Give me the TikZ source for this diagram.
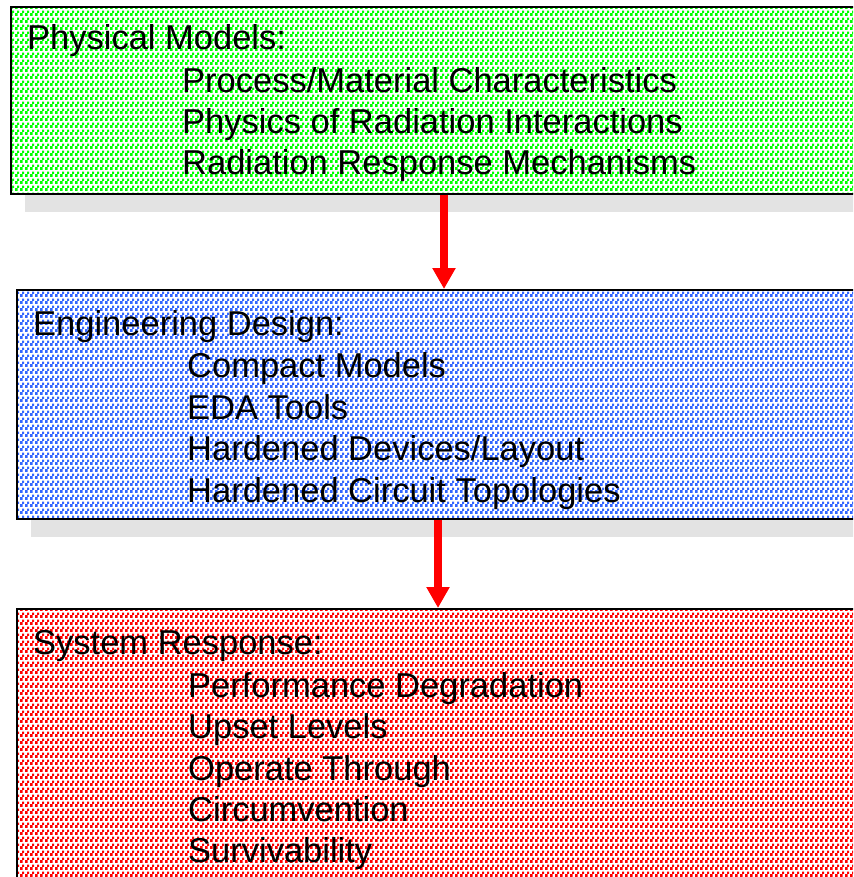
\documentclass[tikz,border=0pt]{standalone}
\usepackage{fontspec}
\setmainfont{Liberation Sans}
\usetikzlibrary{patterns.meta,arrows.meta}
\definecolor{pgreen}{HTML}{00FF00}
\definecolor{pblue}{HTML}{3366FF}
\definecolor{pred}{HTML}{FF0000}
\definecolor{shadowgray}{HTML}{E3E3E3}
\tikzdeclarepattern{
  name=boxdots,
  type=uncolored,
  bottom left={(0pt,0pt)},
  top right={(5pt,6.6pt)},
  tile size={(5pt,6.6pt)},
  code={
    \fill (0pt,0pt) rectangle (3.0pt,3.0pt);
    \fill (2.5pt,3.3pt) rectangle (4.9pt,5.7pt);
  }
}
\tikzset{
  panel/.style={draw=black, line width=2pt, anchor=north west, inner sep=0pt,
    preaction={fill=white}, pattern={boxdots}, pattern color=#1},
  shade/.style={fill=shadowgray, draw=none},
  head/.style={anchor=base west, inner sep=0pt, font=\fontsize{34.5}{40}\selectfont},
  item/.style={anchor=base west, inner sep=0pt, font=\fontsize{34.5}{40}\selectfont},
  arr/.style={draw=pred, line width=8pt, -{Triangle[width=22pt,length=21pt]}}
}
\begin{document}
\begin{tikzpicture}[x=1pt,y=-1pt]
\useasboundingbox (0,0) rectangle (853,877);
\clip (0,0) rectangle (853,877);
% shadows
\fill[shade] (25,193) rectangle (900,212);
\fill[shade] (31,518) rectangle (900,537);
% boxes
\node[panel=pgreen, minimum width=880pt, minimum height=187pt] (phys) at (10,6) {};
\node[panel=pblue, minimum width=880pt, minimum height=229pt] (eng) at (16,289) {};
\node[panel=pred, minimum width=880pt, minimum height=300pt] (sys) at (16,608) {};
% texts
\node[head] (t1) at (27,50) {Physical Models:};
\node[item] (t11) at (182,93) {Process/Material Characteristics};
\node[item] (t12) at (182,134) {Physics of Radiation Interactions};
\node[item] (t13) at (182,175) {Radiation Response Mechanisms};
\node[head] (t2) at (33,335) {Engineering Design:};
\node[item] (t21) at (187,377) {Compact Models};
\node[item] (t22) at (187,419) {EDA Tools};
\node[item] (t23) at (187,460) {Hardened Devices/Layout};
\node[item] (t24) at (187,502) {Hardened Circuit Topologies};
\node[head] (t3) at (33,654) {System Response:};
\node[item] (t31) at (188,697) {Performance Degradation};
\node[item] (t32) at (188,738) {Upset Levels};
\node[item] (t33) at (188,780) {Operate Through};
\node[item] (t34) at (188,821) {Circumvention};
\node[item] (t35) at (188,862) {Survivability};
% arrows
\coordinate (a1) at (444,0);
\coordinate (a2) at (438,0);
\draw[arr] (phys.south west -| a1) -- (eng.north west -| a1);
\draw[arr] (eng.south west -| a2) -- (sys.north west -| a2);
\end{tikzpicture}
\end{document}
